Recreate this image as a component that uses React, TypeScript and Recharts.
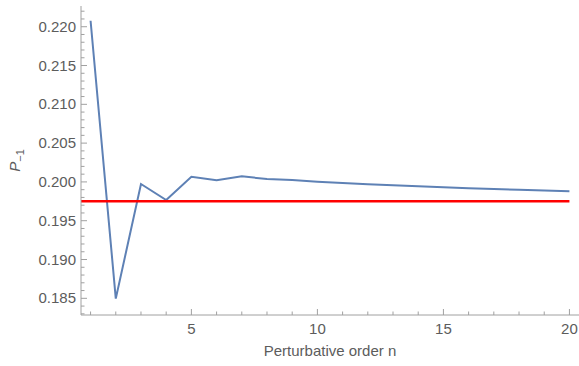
import React from 'react';
import { LineChart, Line, XAxis, YAxis } from 'recharts';

const orders = [1, 2, 3, 4, 5, 6, 7, 8, 9, 10, 11, 12, 13, 14, 15, 16, 17, 18, 19, 20];
const pValues = [
  0.22077, 0.18496, 0.19973, 0.19767, 0.20067, 0.20021, 0.20072, 0.20037, 0.20024, 0.20003,
  0.19986, 0.19969, 0.19956, 0.19943, 0.1993, 0.19919, 0.19908, 0.19898, 0.19889, 0.19879,
];
const exactOrders = [0, 20];
const exactValue = 0.1975;

const xTicks = [1, 2, 3, 4, 5, 6, 7, 8, 9, 10, 11, 12, 13, 14, 15, 16, 17, 18, 19, 20];
const xMajorTicks = [5, 10, 15, 20];
const yTicks = [
  0.183, 0.184, 0.185, 0.186, 0.187, 0.188, 0.189, 0.19, 0.191, 0.192, 0.193, 0.194, 0.195,
  0.196, 0.197, 0.198, 0.199, 0.2, 0.201, 0.202, 0.203, 0.204, 0.205, 0.206, 0.207, 0.208,
  0.209, 0.21, 0.211, 0.212, 0.213, 0.214, 0.215, 0.216, 0.217, 0.218, 0.219, 0.22, 0.221, 0.222,
];
const yMajorTicks = [0.185, 0.19, 0.195, 0.2, 0.205, 0.21, 0.215, 0.22];

const xDomain = [0.62, 20.38];
const yDomain = [0.18285, 0.22267];

const data = orders.map((n, i) => ({ n, p: pValues[i] }));
const exactData = exactOrders.map((n) => ({ n, v: exactValue }));

const FRAME = '#a0a0a0';
const LABEL = '#5c5c5c';
const FONT = "'Liberation Sans', Arial, sans-serif";
const FS = 15;
const MAJOR = 6;
const MINOR = 3.5;

const isXMajor = (v: number) => xMajorTicks.some((m) => Math.abs(m - v) < 1e-9);
const isYMajor = (v: number) => yMajorTicks.some((m) => Math.abs(m - v) < 1e-9);

const BottomTick = (props: any) => {
  const { x, y, payload } = props;
  const v = payload.value;
  const major = isXMajor(v);
  return (
    <g>
      <line x1={x} x2={x} y1={y} y2={y - (major ? MAJOR : MINOR)} stroke={FRAME} strokeWidth={1} />
      {major && (
        <text x={x} y={y + 19} textAnchor="middle" fill={LABEL} fontSize={FS} fontFamily={FONT}>
          {v}
        </text>
      )}
    </g>
  );
};

const TopTick = (props: any) => {
  const { x, y, payload } = props;
  const major = isXMajor(payload.value);
  return <line x1={x} x2={x} y1={y} y2={y + (major ? MAJOR : MINOR)} stroke={FRAME} strokeWidth={1} />;
};

const LeftTick = (props: any) => {
  const { x, y, payload } = props;
  const v = payload.value;
  const major = isYMajor(v);
  return (
    <g>
      <line x1={x} x2={x + (major ? MAJOR : MINOR)} y1={y} y2={y} stroke={FRAME} strokeWidth={1} />
      {major && (
        <text x={x - 5} y={y + 5} textAnchor="end" fill={LABEL} fontSize={FS} fontFamily={FONT}>
          {v.toFixed(3)}
        </text>
      )}
    </g>
  );
};

const RightTick = (props: any) => {
  const { x, y, payload } = props;
  const major = isYMajor(payload.value);
  return <line x1={x} x2={x - (major ? MAJOR : MINOR)} y1={y} y2={y} stroke={FRAME} strokeWidth={1} />;
};

const YLabel = (props: any) => {
  const vb = props.viewBox || {};
  const cy = (vb.y ?? 0) + (vb.height ?? 0) / 2;
  const cx = 20;
  return (
    <text
      x={cx}
      y={cy}
      transform={`rotate(-90, ${cx}, ${cy})`}
      textAnchor="middle"
      fill={LABEL}
      fontSize={FS}
      fontFamily={FONT}
    >
      <tspan fontStyle="italic">P</tspan>
      <tspan fontSize={11} dy={4}>−1</tspan>
    </text>
  );
};

const XLabel = (props: any) => {
  const vb = props.viewBox || {};
  const cx = (vb.x ?? 0) + (vb.width ?? 0) / 2;
  return (
    <text x={cx} y={356} textAnchor="middle" fill={LABEL} fontSize={FS} fontFamily={FONT}>
      Perturbative order n
    </text>
  );
};

export default function App() {
  return (
    <div style={{ position: 'absolute', left: 0, top: 0, width: 579, height: 366, background: '#fff' }}>
      <LineChart width={579} height={366} margin={{ top: 6, right: 0, bottom: 0, left: 0 }}>
        <XAxis
          xAxisId="b"
          dataKey="n"
          type="number"
          domain={xDomain}
          allowDataOverflow
          ticks={xTicks}
          interval={0}
          tickSize={0}
          tickMargin={0}
          tickLine={false}
          tick={<BottomTick />}
          axisLine={{ stroke: FRAME, strokeWidth: 1 }}
          height={51}
          label={<XLabel />}
        />
        <XAxis
          xAxisId="t"
          orientation="top"
          dataKey="n"
          type="number"
          domain={xDomain}
          allowDataOverflow
          ticks={xTicks}
          interval={0}
          tickSize={0}
          tickMargin={0}
          tickLine={false}
          tick={<TopTick />}
          axisLine={{ stroke: FRAME, strokeWidth: 1 }}
          height={0}
        />
        <YAxis
          yAxisId="l"
          type="number"
          domain={yDomain}
          allowDataOverflow
          ticks={yTicks}
          interval={0}
          tickSize={0}
          tickMargin={0}
          tickLine={false}
          tick={<LeftTick />}
          axisLine={{ stroke: FRAME, strokeWidth: 1 }}
          width={81}
          label={<YLabel />}
        />
        <YAxis
          yAxisId="r"
          orientation="right"
          type="number"
          domain={yDomain}
          allowDataOverflow
          ticks={yTicks}
          interval={0}
          tickSize={0}
          tickMargin={0}
          tickLine={false}
          tick={<RightTick />}
          axisLine={{ stroke: FRAME, strokeWidth: 1 }}
          width={0}
        />
        <Line
          xAxisId="b"
          yAxisId="l"
          data={data}
          dataKey="p"
          stroke="#5E81B5"
          strokeWidth={2}
          dot={false}
          isAnimationActive={false}
        />
        <Line
          xAxisId="b"
          yAxisId="l"
          data={exactData}
          dataKey="v"
          stroke="#FF0000"
          strokeWidth={2.5}
          dot={false}
          isAnimationActive={false}
        />
      </LineChart>
    </div>
  );
}
